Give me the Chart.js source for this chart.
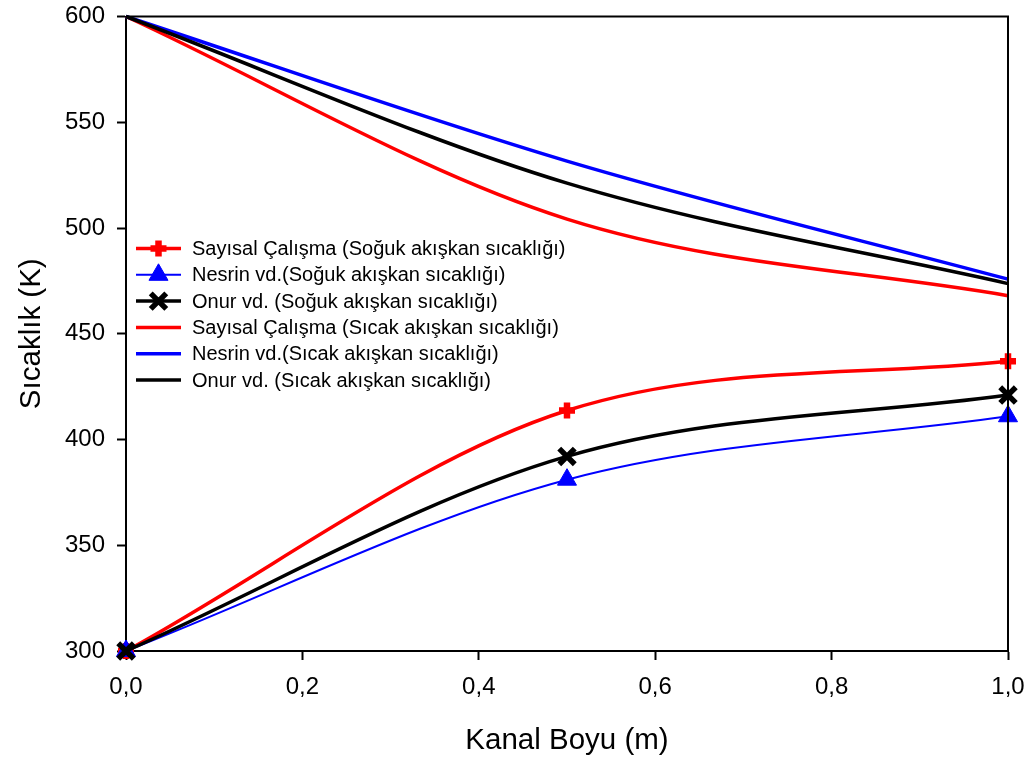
<!DOCTYPE html>
<html>
<head>
<meta charset="utf-8">
<script src="https://cdn.jsdelivr.net/npm/chart.js@4.4.1/dist/chart.umd.min.js"></script>
<style>
  html, body { margin: 0; padding: 0; background: #fff; }
  #wrap { width: 1031px; height: 762px; }
</style>
</head>
<body>
<div id="wrap"><canvas id="grTemp" width="1031" height="762"></canvas></div>
<script>
// kanal boyu (m)
var kanalBoyu = [0.0, 0.5, 1.0];

// soğuk akışkan sıcaklığı (K)
var sayisalSoguk = [300, 413.7, 437];
var nesrinSoguk = [300, 381, 411];
var onurSoguk = [300, 392, 421];

// sıcak akışkan sıcaklığı (K)
var sayisalSicak = [600, 504.2, 468];
var nesrinSicak = [600, 531.6, 475.8];
var onurSicak = [600, 521.2, 473.7];

var xTicks = [0.0, 0.2, 0.4, 0.6, 0.8, 1.0];
var yTicks = [300, 350, 400, 450, 500, 550, 600];

var FONT = 'Arial, "Liberation Sans", sans-serif';

function toPoints(vals) {
	var pts = [];
	for (var i = 0; i < vals.length; i++) {
		pts.push({x: kanalBoyu[i], y: vals[i]});
	}
	return pts;
}

function virgul(v) {
	return v.toFixed(1).replace('.', ',');
}

var seriler = [
	{label: 'Sayısal Çalışma (Soğuk akışkan sıcaklığı)', data: sayisalSoguk, color: '#ff0000', width: 3.5, marker: 'cross', order: 2},
	{label: 'Nesrin vd.(Soğuk akışkan sıcaklığı)', data: nesrinSoguk, color: '#0000ff', width: 2, marker: 'triangle', order: 1},
	{label: 'Onur vd. (Soğuk akışkan sıcaklığı)', data: onurSoguk, color: '#000000', width: 3.5, marker: 'crossRot', order: 0},
	{label: 'Sayısal Çalışma (Sıcak akışkan sıcaklığı)', data: sayisalSicak, color: '#ff0000', width: 3.5, marker: null, order: 5},
	{label: 'Nesrin vd.(Sıcak akışkan sıcaklığı)', data: nesrinSicak, color: '#0000ff', width: 3.5, marker: null, order: 4},
	{label: 'Onur vd. (Sıcak akışkan sıcaklığı)', data: onurSicak, color: '#000000', width: 3.5, marker: null, order: 3}
];

var markerSize = {cross: 8, triangle: 11, crossRot: 11};
var markerWidth = {cross: 6.5, triangle: 1, crossRot: 5.5};

var datasets = [];
seriler.forEach(function(s) {
	datasets.push({
		label: s.label,
		data: toPoints(s.data),
		borderColor: s.color,
		backgroundColor: s.color,
		borderWidth: s.width,
		cubicInterpolationMode: 'monotone',
		pointStyle: s.marker || 'circle',
		pointRadius: s.marker ? markerSize[s.marker] : 0,
		pointHoverRadius: s.marker ? markerSize[s.marker] : 0,
		pointBorderWidth: s.marker ? markerWidth[s.marker] : 0,
		pointBorderColor: s.color,
		pointBackgroundColor: s.color,
		clip: false,
		order: s.order
	});
});

// kutu çerçevesi (üst ve sağ kenar)
var cerceve = {
	id: 'cerceve',
	afterDatasetsDraw: function(chart) {
		var a = chart.chartArea;
		var ctx = chart.ctx;
		ctx.save();
		ctx.strokeStyle = '#000';
		ctx.lineWidth = 2;
		ctx.beginPath();
		ctx.moveTo(a.left, a.top);
		ctx.lineTo(a.right, a.top);
		ctx.lineTo(a.right, a.bottom);
		ctx.stroke();
		ctx.restore();
	}
};

function isaretCiz(ctx, tip, x, y, color) {
	var r = markerSize[tip];
	ctx.save();
	ctx.strokeStyle = color;
	ctx.fillStyle = color;
	ctx.lineWidth = markerWidth[tip];
	ctx.beginPath();
	if (tip === 'cross') {
		ctx.moveTo(x - r, y); ctx.lineTo(x + r, y);
		ctx.moveTo(x, y - r); ctx.lineTo(x, y + r);
		ctx.stroke();
	} else if (tip === 'crossRot') {
		var d = r * Math.SQRT1_2;
		ctx.moveTo(x - d, y - d); ctx.lineTo(x + d, y + d);
		ctx.moveTo(x + d, y - d); ctx.lineTo(x - d, y + d);
		ctx.stroke();
	} else if (tip === 'triangle') {
		var a = 0;
		ctx.moveTo(x + Math.sin(a) * r, y - Math.cos(a) * r);
		a += 2 * Math.PI / 3;
		ctx.lineTo(x + Math.sin(a) * r, y - Math.cos(a) * r);
		a += 2 * Math.PI / 3;
		ctx.lineTo(x + Math.sin(a) * r, y - Math.cos(a) * r);
		ctx.closePath();
		ctx.fill();
		ctx.stroke();
	}
	ctx.restore();
}

// grafik içindeki açıklama kutusu
var aciklama = {
	id: 'aciklama',
	afterDraw: function(chart) {
		var ctx = chart.ctx;
		var x0 = 136, x1 = 181, tx = 192, y = 248.5, dy = 26.3;
		ctx.save();
		ctx.font = '20px ' + FONT;
		ctx.textBaseline = 'middle';
		ctx.textAlign = 'left';
		seriler.forEach(function(s, i) {
			var yy = y + i * dy;
			ctx.strokeStyle = s.color;
			ctx.lineWidth = s.width;
			ctx.beginPath();
			ctx.moveTo(x0, yy);
			ctx.lineTo(x1, yy);
			ctx.stroke();
			if (s.marker) {
				isaretCiz(ctx, s.marker, (x0 + x1) / 2, yy, s.color);
			}
			ctx.fillStyle = '#000';
			ctx.fillText(s.label, tx, yy + 1);
		});
		ctx.restore();
	}
};

var ctxT = document.getElementById('grTemp').getContext('2d');
window.myLine = new Chart(ctxT, {
	type: 'line',
	data: {datasets: datasets},
	options: {
		responsive: false,
		animation: false,
		events: [],
		layout: {padding: {top: 15, right: 23, left: 0, bottom: 0}},
		plugins: {
			legend: {display: false},
			tooltip: {enabled: false}
		},
		scales: {
			x: {
				type: 'linear',
				min: 0,
				max: 1,
				afterBuildTicks: function(scale) {
					scale.ticks = xTicks.map(function(v) { return {value: v}; });
				},
				afterFit: function(scale) {
					scale.height = 111;
					scale.paddingLeft = 0;
					scale.paddingRight = 0;
				},
				ticks: {
					color: '#000',
					font: {family: FONT, size: 24},
					padding: 12.5,
					maxRotation: 0,
					callback: function(v) { return virgul(v); }
				},
				grid: {drawOnChartArea: false, color: '#000', tickLength: 9, tickWidth: 2},
				border: {color: '#000', width: 2},
				title: {
					display: true,
					text: 'Kanal Boyu (m)',
					color: '#000',
					font: {family: FONT, size: 29.5},
					padding: {top: 0, bottom: 3}
				}
			},
			y: {
				type: 'linear',
				min: 300,
				max: 600,
				afterBuildTicks: function(scale) {
					scale.ticks = yTicks.map(function(v) { return {value: v}; });
				},
				afterFit: function(scale) {
					scale.width = 126;
					scale.paddingTop = 0;
					scale.paddingBottom = 0;
				},
				ticks: {
					color: '#000',
					font: {family: FONT, size: 24},
					padding: 12
				},
				grid: {drawOnChartArea: false, color: '#000', tickLength: 9, tickWidth: 2},
				border: {color: '#000', width: 2},
				title: {
					display: true,
					text: 'Sıcaklık (K)',
					color: '#000',
					font: {family: FONT, size: 29.5},
					padding: {top: 14, bottom: 0}
				}
			}
		}
	},
	plugins: [cerceve, aciklama]
});
</script>
</body>
</html>
